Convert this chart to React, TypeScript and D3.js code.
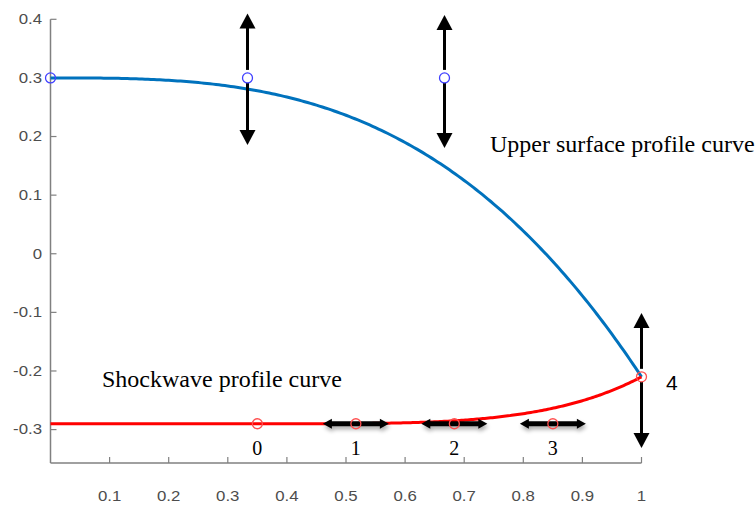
import React from "react";
import * as d3 from "d3";

const W = 756;
const H = 509;

const xTicks = [0.1, 0.2, 0.3, 0.4, 0.5, 0.6, 0.7, 0.8, 0.9, 1];
const xTickLabels = ["0.1", "0.2", "0.3", "0.4", "0.5", "0.6", "0.7", "0.8", "0.9", "1"];
const yTicks = [0.4, 0.3, 0.2, 0.1, 0, -0.1, -0.2, -0.3];
const yTickLabels = ["0.4", "0.3", "0.2", "0.1", "0", "-0.1", "-0.2", "-0.3"];

// Bezier control points
const upperCtrlX = [0, 1 / 3, 2 / 3, 1];
const upperCtrlY = [0.3, 0.3, 0.3, -0.21];
const shockStartX = [0];
const shockStartY = [-0.29];
const shockCtrlX = [0.35, 0.5167, 0.6833, 0.85, 1];
const shockCtrlY = [-0.29, -0.29, -0.29, -0.29, -0.21];
const shockLabels = ["0", "1", "2", "3", "4"];

const upperLabel = "Upper surface profile curve";
const shockLabel = "Shockwave profile curve";

function bezier(xs: number[], ys: number[], n: number): [number, number][] {
  const out: [number, number][] = [];
  for (let i = 0; i <= n; i++) {
    const t = i / n;
    let px = xs.slice();
    let py = ys.slice();
    while (px.length > 1) {
      const nx: number[] = [];
      const ny: number[] = [];
      for (let k = 0; k < px.length - 1; k++) {
        nx.push(px[k] * (1 - t) + px[k + 1] * t);
        ny.push(py[k] * (1 - t) + py[k + 1] * t);
      }
      px = nx;
      py = ny;
    }
    out.push([px[0], py[0]]);
  }
  return out;
}

export default function App() {
  const x = d3.scaleLinear().domain([0, 1]).range([50.5, 641.5]);
  const y = d3.scaleLinear().domain([-0.357, 0.4]).range([463, 19.3]);
  const line = d3
    .line<[number, number]>()
    .x((d) => x(d[0]))
    .y((d) => y(d[1]));

  const upperPts = bezier(upperCtrlX, upperCtrlY, 200);
  const shockPts: [number, number][] = [
    [shockStartX[0], shockStartY[0]],
    ...bezier(shockCtrlX, shockCtrlY, 200),
  ];

  const axisColor = "#808080";
  const tickText = "#4d4d4d";
  const sansFont = "'Liberation Sans', Arial, Helvetica, sans-serif";
  const serifFont = "'Liberation Serif', 'Times New Roman', serif";

  const vArrows = [
    { cx: upperCtrlX[1], cy: upperCtrlY[1], top: 13.5, bottom: 145 },
    { cx: upperCtrlX[2], cy: upperCtrlY[2], top: 15, bottom: 148 },
    { cx: shockCtrlX[4], cy: shockCtrlY[4], top: 313, bottom: 448 },
  ];
  const hArrowIdx = [1, 2, 3];

  const headL = 15;
  const headW = 8;

  return (
    <svg width={W} height={H} style={{ position: "absolute", left: 0, top: 0 }}>
      <defs>
        <filter id="shadow" x="-20%" y="-100%" width="140%" height="400%">
          <feGaussianBlur in="SourceAlpha" stdDeviation="2" />
          <feOffset dx="1" dy="3" result="b" />
          <feComponentTransfer>
            <feFuncA type="linear" slope="0.35" />
          </feComponentTransfer>
          <feMerge>
            <feMergeNode />
            <feMergeNode in="SourceGraphic" />
          </feMerge>
        </filter>
      </defs>
      <rect width={W} height={H} fill="#fff" />

      {/* axes */}
      <line x1={x(0)} x2={x(0)} y1={y(0.4)} y2={y(-0.357)} stroke={axisColor} strokeWidth={1.5} />
      <line x1={x(0)} x2={x(1)} y1={y(-0.357)} y2={y(-0.357)} stroke={axisColor} strokeWidth={1.5} />
      {yTicks.map((t, i) => (
        <g key={"y" + i}>
          <line x1={x(0)} x2={x(0) + 6} y1={y(t)} y2={y(t)} stroke={axisColor} strokeWidth={1.2} />
          <text
            x={42}
            y={y(t)}
            dy="0.35em"
            textAnchor="end"
            fontFamily={sansFont}
            fontSize={14}
            fill={tickText}
            transform={`translate(${42 * -0.2},0) scale(1.2,1)`}
          >
            {yTickLabels[i]}
          </text>
        </g>
      ))}
      {xTicks.map((t, i) => (
        <g key={"x" + i}>
          <line x1={x(t)} x2={x(t)} y1={y(-0.357)} y2={y(-0.357) - 6} stroke={axisColor} strokeWidth={1.2} />
          <text
            x={x(t) / 1.2}
            y={496}
            dy="0.35em"
            textAnchor="middle"
            fontFamily={sansFont}
            fontSize={14}
            fill={tickText}
            transform="scale(1.2,1)"
          >
            {xTickLabels[i]}
          </text>
        </g>
      ))}

      {/* curves */}
      <path d={line(upperPts) || ""} fill="none" stroke="#0072BD" strokeWidth={3} />
      <path d={line(shockPts) || ""} fill="none" stroke="#FF0000" strokeWidth={3} />

      {/* vertical arrows */}
      {vArrows.map((a, i) => {
        const ax = x(a.cx);
        const ay = y(a.cy);
        return (
          <g key={"va" + i}>
            <line x1={ax} x2={ax} y1={a.top + headL - 1} y2={ay - 8} stroke="#000" strokeWidth={3} />
            <line x1={ax} x2={ax} y1={ay + 5} y2={a.bottom - headL + 1} stroke="#000" strokeWidth={3} />
            <path
              d={`M${ax},${a.top} L${ax - headW},${a.top + headL} L${ax + headW},${a.top + headL} Z`}
              fill="#000"
            />
            <path
              d={`M${ax},${a.bottom} L${ax - headW},${a.bottom - headL} L${ax + headW},${a.bottom - headL} Z`}
              fill="#000"
            />
          </g>
        );
      })}

      {/* horizontal arrows */}
      {hArrowIdx.map((k) => {
        const ax = x(shockCtrlX[k]);
        const ay = y(shockCtrlY[k]);
        const half = 33;
        const hl = 9;
        const hw = 5;
        return (
          <g key={"ha" + k} filter="url(#shadow)">
            <line x1={ax - half + hl - 1} x2={ax + half - hl + 1} y1={ay} y2={ay} stroke="#000" strokeWidth={5} />
            <path d={`M${ax - half},${ay} L${ax - half + hl},${ay - hw} L${ax - half + hl},${ay + hw} Z`} fill="#000" />
            <path d={`M${ax + half},${ay} L${ax + half - hl},${ay - hw} L${ax + half - hl},${ay + hw} Z`} fill="#000" />
          </g>
        );
      })}

      {/* control point markers */}
      {upperCtrlX.slice(0, 3).map((cx, i) => (
        <circle key={"uc" + i} cx={x(cx)} cy={y(upperCtrlY[i])} r={5} fill="none" stroke="#4040ff" strokeWidth={1.3} />
      ))}
      {shockCtrlX.map((cx, i) => (
        <circle key={"sc" + i} cx={x(cx)} cy={y(shockCtrlY[i])} r={5} fill="none" stroke="#ff5050" strokeWidth={1.3} />
      ))}

      {/* shock point labels */}
      {shockCtrlX.slice(0, 4).map((cx, i) => (
        <text key={"sl" + i} x={x(cx)} y={455} textAnchor="middle" fontFamily={serifFont} fontSize={20} fill="#000">
          {shockLabels[i]}
        </text>
      ))}
      <text x={666} y={390} fontFamily={sansFont} fontSize={21} fill="#000">
        {shockLabels[4]}
      </text>

      <text x={490} y={152} fontFamily={serifFont} fontSize={24} fill="#000">
        {upperLabel}
      </text>
      <text x={102} y={387} fontFamily={serifFont} fontSize={24} fill="#000">
        {shockLabel}
      </text>
    </svg>
  );
}
